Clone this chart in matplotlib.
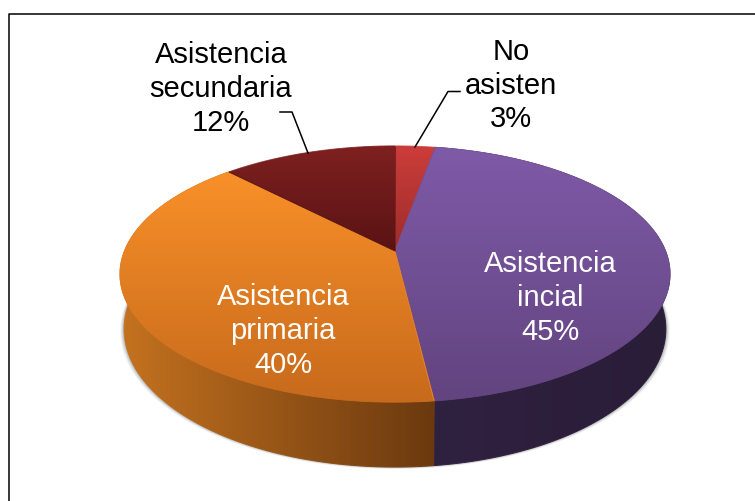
import numpy as np
import matplotlib
matplotlib.use('Agg')
import matplotlib.pyplot as plt
from matplotlib.colors import LinearSegmentedColormap
from matplotlib.collections import LineCollection
from matplotlib.patches import Polygon

plt.rcParams['font.family'] = ['Liberation Sans', 'DejaVu Sans']

# datos
labels = ['No\nasisten', 'Asistencia\nincial', 'Asistencia\nprimaria', 'Asistencia\nsecundaria']
values = [2.8, 45.3, 39.7, 12.2]

# colores: cara superior (arriba, abajo) y lateral (izq, der)
top_cols = [('#cc3d3a', '#9c2d2c'), ('#7f5aa8', '#62447f'), ('#f99029', '#c76a1c'), ('#7f2020', '#591313')]
side_cols = [('#7a1c1c', '#7a1c1c'), ('#2f2140', '#2a1d38'), ('#c4721f', '#6b390f'), ('#4a1010', '#4a1010')]
txt_cols = ['black', 'white', 'white', 'black']
txt_pos = [(511, 85.5), (550, 298), (283, 331), (221, 89)]

cx, rx = 395, 270.5
a, b_top, b_bot, persp = -78.6, 252, 305.2, 0.18


def rim(theta, b, sx=1.0):
    u, v = np.sin(theta), np.cos(theta)
    w = 1 + persp * v
    return cx + sx * rx * u / w, (a * v + b) / w


def gradient(ax, xs, ys, cols, horizontal=False, z=2):
    cmap = LinearSegmentedColormap.from_list('g', cols)
    g = np.linspace(0, 1, 256)
    g = g.reshape(1, -1) if horizontal else g.reshape(-1, 1)
    ext = [xs.min(), xs.max(), ys.max(), ys.min()]
    im = ax.imshow(g, cmap=cmap, extent=ext, aspect='auto', origin='upper', zorder=z, interpolation='bilinear')
    im.set_clip_path(Polygon(np.c_[xs, ys], closed=True, transform=ax.transData))
    # borde fino para suavizar el recorte
    pos = (xs - xs.min()) / np.ptp(xs) if horizontal else (ys - ys.min()) / np.ptp(ys)
    pts = np.c_[np.r_[xs, xs[0]], np.r_[ys, ys[0]]]
    segs = np.stack([pts[:-1], pts[1:]], axis=1)
    lc = LineCollection(segs, cmap=cmap, norm=plt.Normalize(0, 1), linewidths=0.7, zorder=z)
    lc.set_array(pos)
    ax.add_collection(lc)


fig = plt.figure(figsize=(7.55, 5.02), dpi=100)
ax = fig.add_axes([0, 0, 1, 1])

# sombra suave
tt = np.linspace(0, 2 * np.pi, 300)
for d, al in [(4, 0.06), (3, 0.10), (2, 0.14), (1, 0.18)]:
    sx_, sy_ = rim(tt, b_bot, 0.985)
    ax.fill(cx + (sx_ - cx) * (1 + d / 270), sy_ + d * 0.5, color='#505050', alpha=al, lw=0, zorder=1)

edges = np.deg2rad(np.cumsum([0] + values) * 3.6)

# laterales
for i in range(len(values)):
    th = np.linspace(edges[i], edges[i + 1], 150)
    x1, y1 = rim(th, b_top)
    x2, y2 = rim(th, b_bot, 0.985)
    if y1.max() < 275:
        continue
    gradient(ax, np.r_[x1, x2[::-1]], np.r_[y1, y2[::-1]], side_cols[i], horizontal=True)

# caras superiores
for i in range(len(values)):
    th = np.linspace(edges[i], edges[i + 1], 200)
    x1, y1 = rim(th, b_top)
    gradient(ax, np.r_[cx, x1], np.r_[b_top, y1], top_cols[i], z=3)

# etiquetas
for lab, v, c, p in zip(labels, values, txt_cols, txt_pos):
    ax.text(p[0], p[1], f'{lab}\n{round(v)}%', color=c, fontsize=21, ha='center', va='center',
            ma='center', linespacing=1.26, zorder=5)

# lineas guia
ax.plot([460, 448, 415], [92.5, 92.5, 148], color='black', lw=1.1, zorder=4)
ax.plot([280, 292, 308], [113, 113, 154], color='black', lw=1.1, zorder=4)

# marco
ax.plot([8.5, 8.5, 755], [502, 15, 15], color='black', lw=1.1, zorder=4)

ax.set_xlim(0, 755)
ax.set_ylim(502, 0)
ax.axis('off')
fig.savefig('out.png', dpi=100, facecolor='white')
